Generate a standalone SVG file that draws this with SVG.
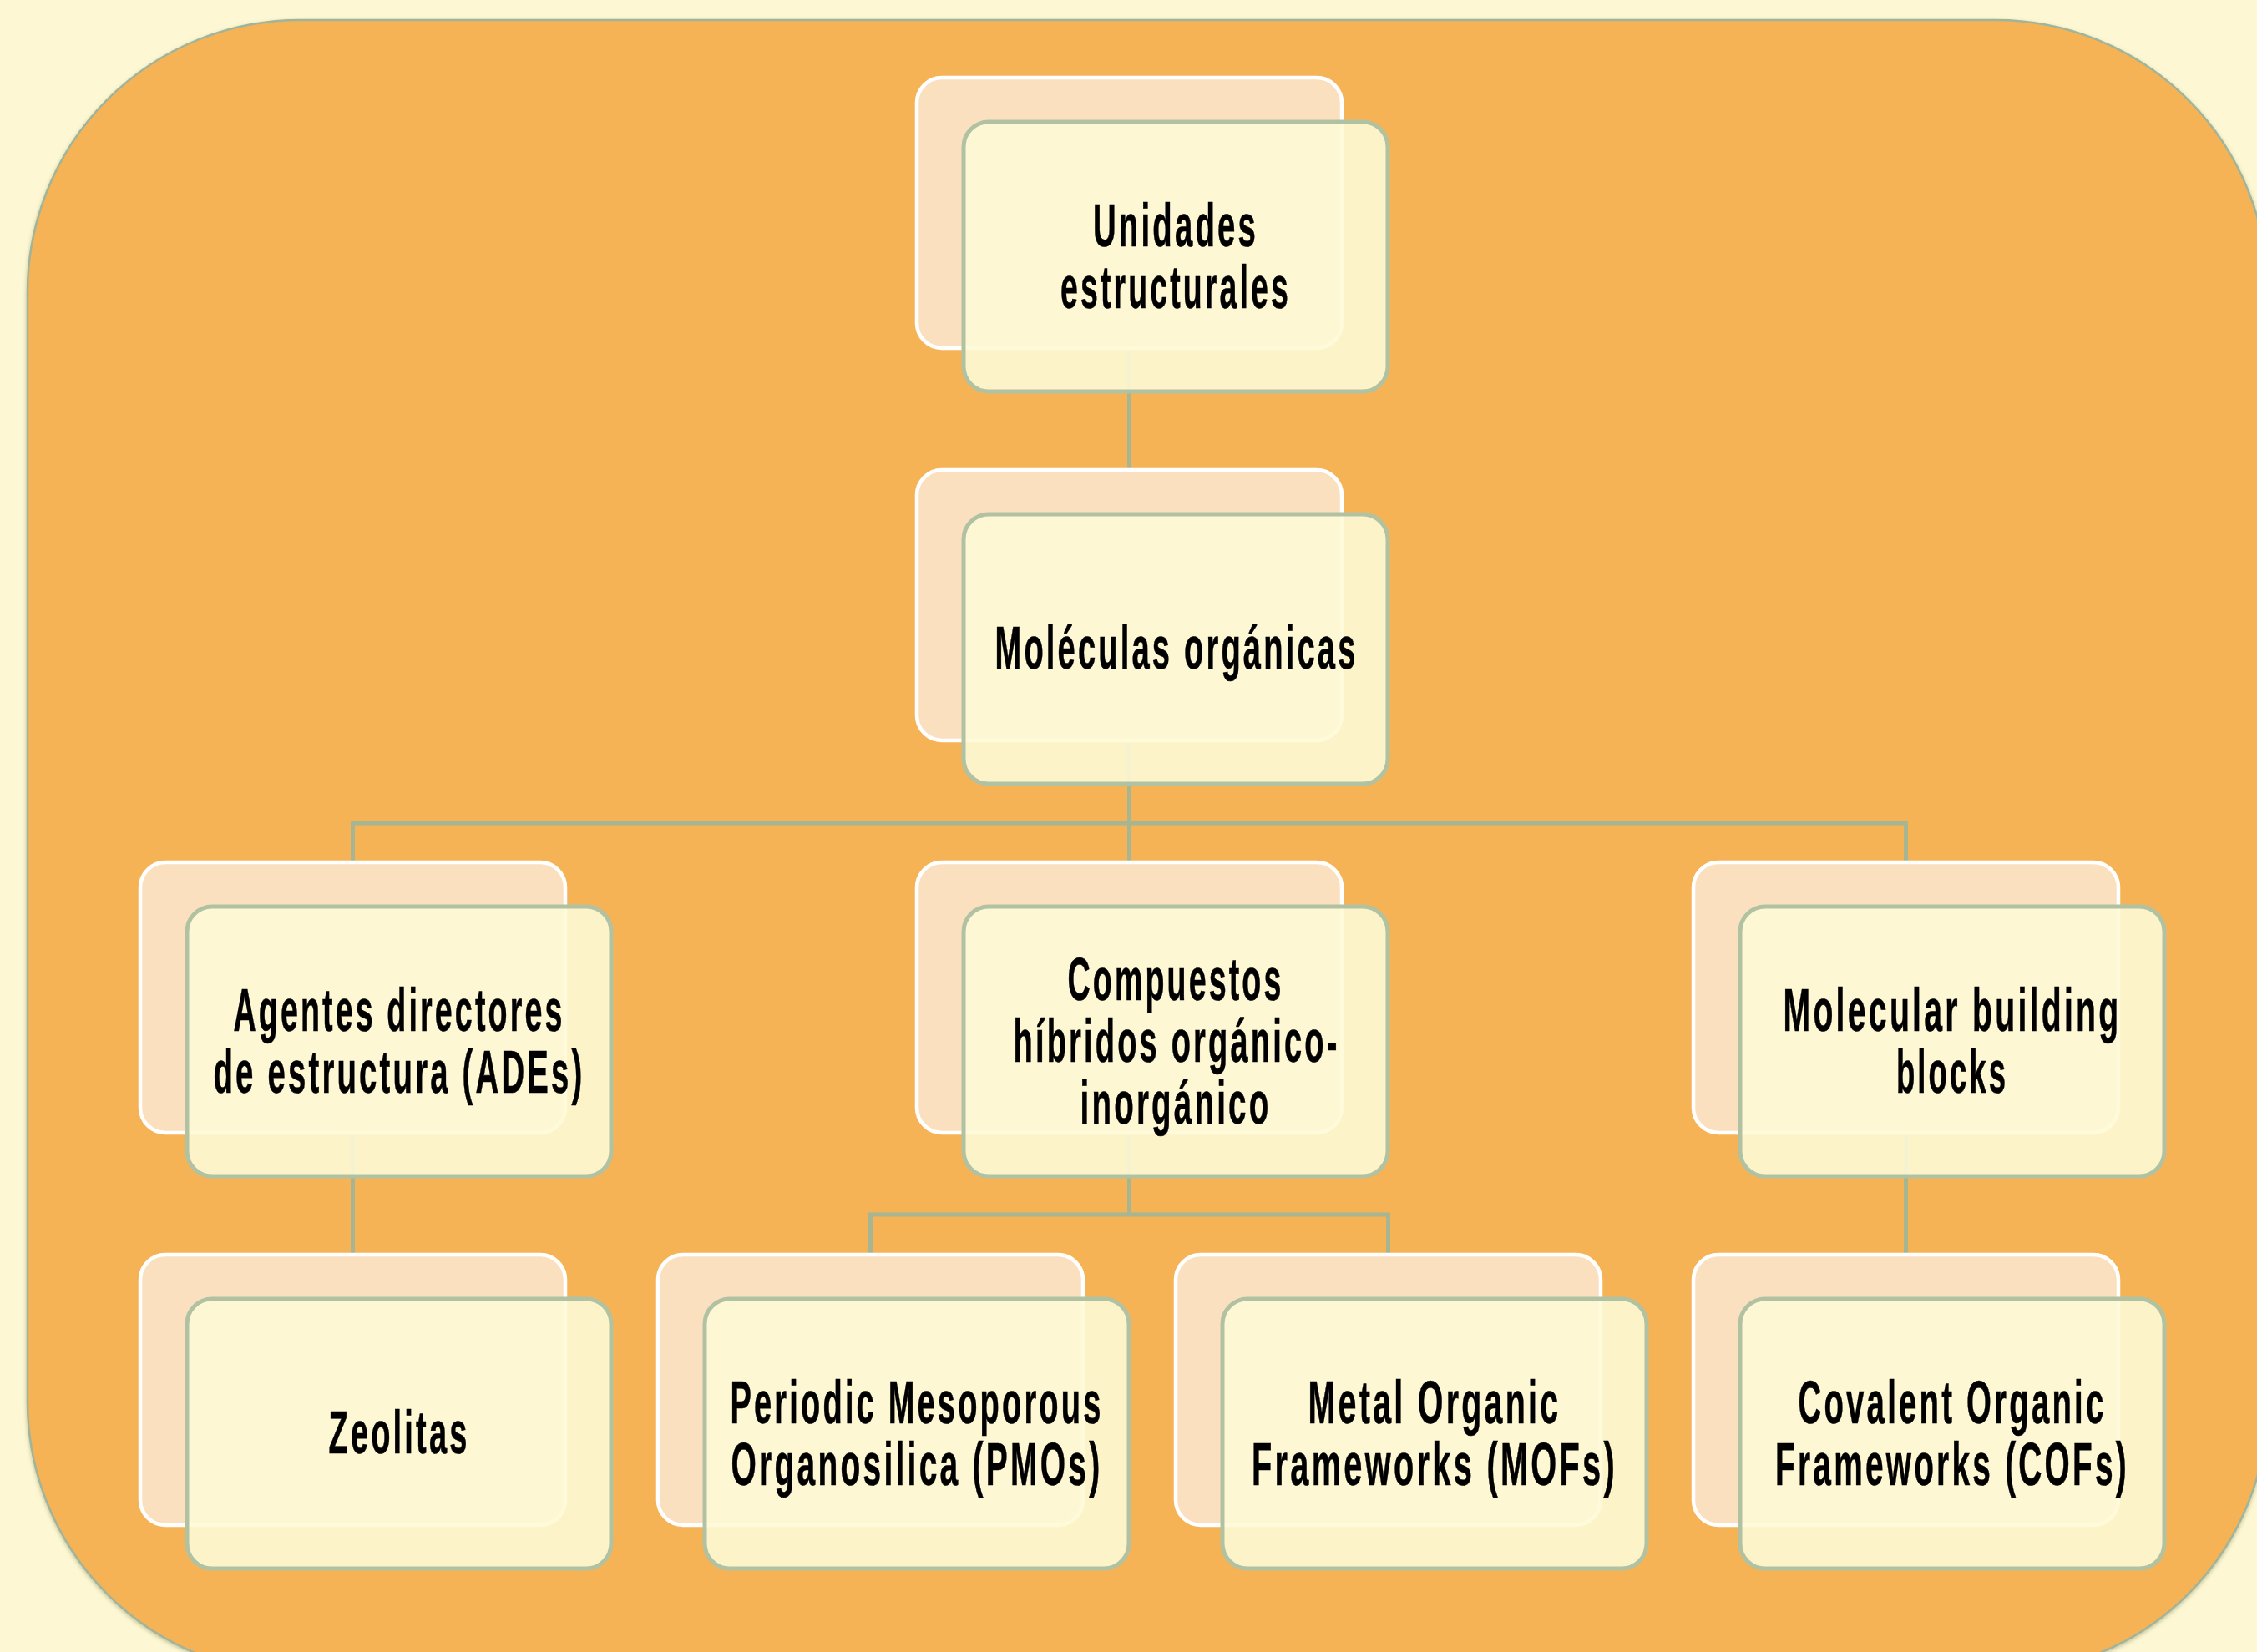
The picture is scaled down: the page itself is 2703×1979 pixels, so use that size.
<svg xmlns="http://www.w3.org/2000/svg" width="2703" height="1979" viewBox="0 0 2703 1979">
<defs>
<style>
.back{fill:#fbe0c0;stroke:#ffffff;stroke-width:4.5}
.front{fill:#fef9d6;fill-opacity:0.9;stroke:#b1c2a3;stroke-width:5}
.conn{fill:none;stroke:#a6b592;stroke-width:5}
.lbl{font-family:"Liberation Sans Narrow","Liberation Sans",Arial,sans-serif;font-weight:bold;font-size:72px;letter-spacing:6px;fill:#000;stroke:#000;stroke-width:0.6;text-anchor:middle}
</style>
<filter id="sh" x="-5%" y="-5%" width="110%" height="110%">
<feDropShadow dx="0" dy="2" stdDeviation="2.5" flood-color="#7d7a4e" flood-opacity="0.45"/>
</filter>
</defs>
<rect x="0" y="0" width="2703" height="1979" fill="#fdf8d3"/>
<rect id="frame" x="33" y="24" width="2683" height="1981" rx="326" ry="326" fill="#f5b357" stroke="#a0b49c" stroke-width="2.5" filter="url(#sh)"/>
<g id="connectors">
<path class="conn" d="M1352.5,417 V563"/>
<path class="conn" d="M1352.5,887 V986 M422.5,1033 V986 H2282.5 V1033 M1352.5,986 V1033"/>
<path class="conn" d="M422.5,1357 V1503"/>
<path class="conn" d="M1352.5,1357 V1455 M1042.5,1503 V1455 H1662.5 V1503"/>
<path class="conn" d="M2282.5,1357 V1503"/>
</g>
<g id="n-unidades">
<rect class="back" x="1098" y="93" width="509" height="324" rx="30"/>
<rect class="front" x="1154" y="146" width="508" height="323" rx="30"/>
<text class="lbl" x="1408" y="295" textLength="198" lengthAdjust="spacingAndGlyphs">Unidades</text>
<text class="lbl" x="1408" y="369" textLength="276" lengthAdjust="spacingAndGlyphs">estructurales</text>
</g>
<g id="n-moleculas">
<rect class="back" x="1098" y="563" width="509" height="324" rx="30"/>
<rect class="front" x="1154" y="616" width="508" height="323" rx="30"/>
<text class="lbl" x="1409" y="801" textLength="435" lengthAdjust="spacingAndGlyphs">Moléculas orgánicas</text>
</g>
<g id="n-ades">
<rect class="back" x="168" y="1033" width="509" height="324" rx="30"/>
<rect class="front" x="224" y="1086" width="508" height="323" rx="30"/>
<text class="lbl" x="478" y="1235" textLength="397" lengthAdjust="spacingAndGlyphs">Agentes directores</text>
<text class="lbl" x="478" y="1309" textLength="445" lengthAdjust="spacingAndGlyphs">de estructura (ADEs)</text>
</g>
<g id="n-compuestos">
<rect class="back" x="1098" y="1033" width="509" height="324" rx="30"/>
<rect class="front" x="1154" y="1086" width="508" height="323" rx="30"/>
<text class="lbl" x="1408" y="1198" textLength="259" lengthAdjust="spacingAndGlyphs">Compuestos</text>
<text class="lbl" x="1409" y="1272" textLength="391" lengthAdjust="spacingAndGlyphs">híbridos orgánico-</text>
<text class="lbl" x="1408" y="1346" textLength="229" lengthAdjust="spacingAndGlyphs">inorgánico</text>
</g>
<g id="n-mbb">
<rect class="back" x="2028" y="1033" width="509" height="324" rx="30"/>
<rect class="front" x="2084" y="1086" width="508" height="323" rx="30"/>
<text class="lbl" x="2338" y="1235" textLength="405" lengthAdjust="spacingAndGlyphs">Molecular building</text>
<text class="lbl" x="2338" y="1309" textLength="134" lengthAdjust="spacingAndGlyphs">blocks</text>
</g>
<g id="n-zeolitas">
<rect class="back" x="168" y="1503" width="509" height="324" rx="30"/>
<rect class="front" x="224" y="1556" width="508" height="323" rx="30"/>
<text class="lbl" x="478" y="1741" textLength="169" lengthAdjust="spacingAndGlyphs">Zeolitas</text>
</g>
<g id="n-pmos">
<rect class="back" x="788" y="1503" width="509" height="324" rx="30"/>
<rect class="front" x="844" y="1556" width="508" height="323" rx="30"/>
<text class="lbl" x="1098" y="1705" textLength="447" lengthAdjust="spacingAndGlyphs">Periodic Mesoporous</text>
<text class="lbl" x="1098" y="1779" textLength="445" lengthAdjust="spacingAndGlyphs">Organosilica (PMOs)</text>
</g>
<g id="n-mofs">
<rect class="back" x="1408" y="1503" width="509" height="324" rx="30"/>
<rect class="front" x="1464" y="1556" width="508" height="323" rx="30"/>
<text class="lbl" x="1718" y="1705" textLength="303" lengthAdjust="spacingAndGlyphs">Metal Organic</text>
<text class="lbl" x="1718" y="1779" textLength="438" lengthAdjust="spacingAndGlyphs">Frameworks (MOFs)</text>
</g>
<g id="n-cofs">
<rect class="back" x="2028" y="1503" width="509" height="324" rx="30"/>
<rect class="front" x="2084" y="1556" width="508" height="323" rx="30"/>
<text class="lbl" x="2338" y="1705" textLength="369" lengthAdjust="spacingAndGlyphs">Covalent Organic</text>
<text class="lbl" x="2338" y="1779" textLength="424" lengthAdjust="spacingAndGlyphs">Frameworks (COFs)</text>
</g>
</svg>
